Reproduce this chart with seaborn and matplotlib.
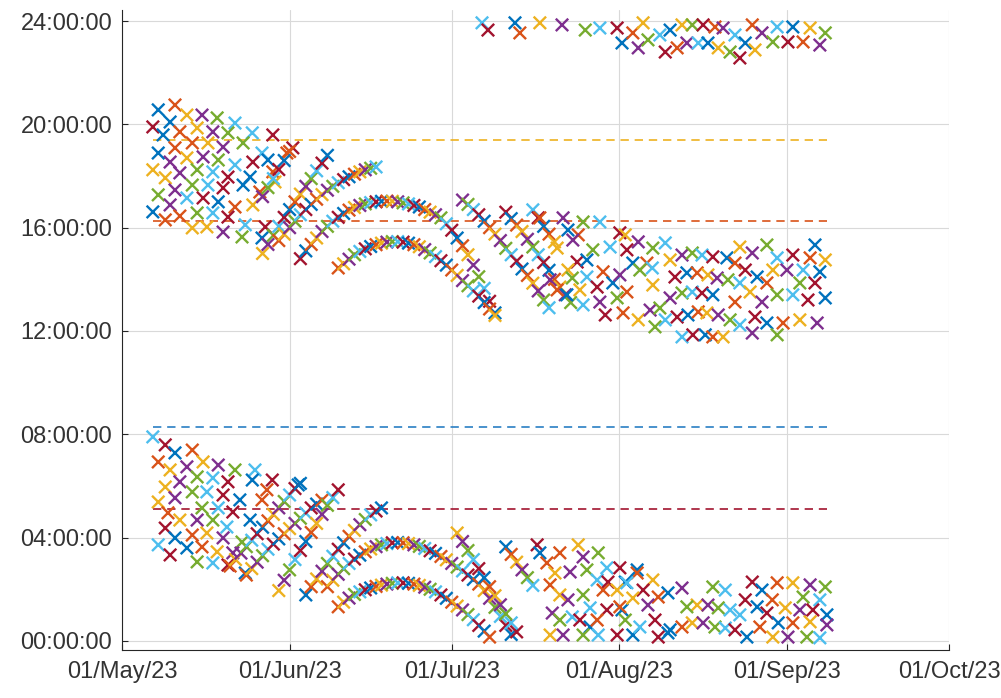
#pass times plot, redrawn from the matlab figure

import numpy as np
import pandas as pd
import seaborn as sns
import matplotlib
matplotlib.use("Agg")
from matplotlib import pyplot as plt
import matplotlib.dates as mdates
from matplotlib.ticker import FuncFormatter

#days counted from 01/May/23, values are hour of the day
#scattered passes, (day, hour)
may_up = [(6.7, 20.56), (9.8, 20.75), (12.0, 20.36), (14.8, 20.36), (17.6, 20.25), (20.9, 20.05),
          (5.7, 19.90), (8.9, 20.09), (10.7, 19.71), (13.9, 19.86), (16.8, 19.71), (19.6, 19.67),
          (24.1, 19.67), (27.9, 19.59), (7.6, 19.59), (13.0, 19.28), (15.9, 19.28), (18.7, 19.12),
          (22.4, 19.28), (25.9, 18.89), (31.6, 19.09), (6.7, 18.89), (9.8, 19.09), (12.0, 18.70),
          (15.0, 18.74), (17.8, 18.62), (20.9, 18.43), (24.2, 18.54), (27.0, 18.62), (30.5, 18.89),
          (5.7, 18.24), (8.9, 18.54), (13.9, 18.24), (16.8, 18.16), (19.6, 17.96), (23.7, 17.96),
          (27.9, 18.16), (8.0, 17.93), (10.7, 18.12), (13.0, 17.65), (15.9, 17.65), (18.7, 17.54),
          (22.4, 17.65), (25.5, 17.38), (28.3, 17.77), (9.8, 17.46), (6.7, 17.27), (12.0, 17.15),
          (15.0, 17.15), (17.8, 17.00), (20.9, 16.80), (24.2, 16.88), (8.9, 16.88), (13.9, 16.57),
          (16.8, 16.57), (19.6, 16.41), (5.7, 16.61), (10.7, 16.45), (15.7, 16.03), (18.7, 15.83),
          (22.2, 15.64), (22.8, 16.11), (26.5, 16.03), (25.9, 15.60), (8.0, 16.30), (13.0, 15.99)]

late_up = [(81.6, 16.38), (85.3, 16.22), (88.4, 16.22), (92.1, 15.80), (82.5, 15.91), (84.4, 15.72),
           (80.5, 15.21), (83.4, 15.52), (87.1, 15.14), (90.3, 15.25), (84.2, 14.67), (86.0, 14.75),
           (89.0, 14.29), (82.5, 14.36), (79.2, 13.98), (83.3, 14.05), (86.0, 14.09), (87.9, 13.70),
           (90.8, 13.86), (80.5, 13.59), (84.7, 13.59), (88.4, 13.12), (91.6, 13.28), (85.3, 13.01),
           (89.4, 12.62), (82.3, 13.40), (77.3, 16.38),
           (93.1, 15.72), (95.5, 15.45), (98.2, 15.21), (100.5, 15.41), (93.4, 15.14), (94.5, 14.63),
           (97.1, 14.63), (101.4, 14.75), (103.6, 14.94), (105.5, 15.02), (107.3, 14.94), (109.3, 14.87),
           (111.9, 14.83), (113.4, 14.63), (114.3, 15.25), (116.6, 15.02), (119.3, 15.33), (121.2, 14.83),
           (124.1, 14.94), (128.2, 15.33), (127.3, 14.83), (130.1, 14.75),
           (92.1, 14.17), (95.8, 14.36), (98.1, 14.44), (102.3, 14.09), (104.5, 14.25), (106.4, 14.25),
           (108.4, 14.17), (110.1, 14.05), (112.1, 13.98), (114.3, 13.86), (115.3, 14.36), (117.5, 14.09),
           (119.3, 13.86), (120.4, 14.36), (123.0, 14.36), (125.4, 13.86), (126.0, 14.36), (128.2, 13.86),
           (129.1, 14.29), (93.4, 13.51), (98.2, 13.78), (101.4, 13.28), (103.6, 13.47), (105.5, 13.51),
           (107.3, 13.47), (109.3, 13.40), (113.4, 13.12), (116.2, 13.51), (118.4, 13.12), (121.2, 13.40),
           (124.1, 13.40), (126.9, 13.20), (130.1, 13.28), (92.7, 12.70), (95.5, 12.43), (97.7, 12.81),
           (99.5, 12.89), (100.5, 12.43), (102.7, 12.54), (104.7, 12.62), (106.6, 12.74), (108.2, 12.70),
           (110.3, 12.62), (112.5, 12.43), (114.3, 12.23), (117.1, 12.54), (119.3, 12.31), (122.3, 12.31),
           (125.4, 12.43), (128.6, 12.31), (98.6, 12.16), (103.6, 11.77), (105.6, 11.85), (107.9, 11.85),
           (109.3, 11.77), (111.2, 11.77), (116.6, 11.92), (121.2, 11.85)]

late_night = [(66.6, 23.93), (67.7, 23.65), (72.7, 23.93), (73.6, 23.54), (77.3, 23.93), (81.4, 23.85),
              (85.7, 23.65), (88.4, 23.73), (91.6, 23.73), (92.5, 23.15), (94.5, 23.54), (96.4, 23.93),
              (95.5, 22.96), (97.3, 23.27), (99.5, 23.46), (100.5, 22.80), (101.4, 23.65), (102.7, 22.96),
              (103.6, 23.85), (104.5, 23.15), (105.5, 23.85), (106.6, 23.15), (107.5, 23.85), (108.4, 23.15),
              (109.7, 23.77), (110.3, 22.96), (111.2, 23.73), (112.5, 22.80), (113.4, 23.46), (114.3, 22.57),
              (115.3, 23.15), (116.6, 23.85), (117.1, 22.88), (118.4, 23.54), (120.4, 23.19), (121.2, 23.77),
              (123.2, 23.19), (124.1, 23.77), (126.0, 23.19), (127.3, 23.73), (129.1, 23.07), (130.1, 23.54)]

may_lo = [(5.7, 7.90), (8.0, 7.59), (9.8, 7.28), (13.0, 7.39), (15.0, 6.93), (17.8, 6.81), (20.9, 6.62),
          (24.6, 6.62), (27.8, 6.23), (32.6, 6.04), (6.7, 6.93), (8.9, 6.62), (12.0, 6.74), (13.9, 6.35),
          (16.8, 6.31), (19.6, 6.16), (24.1, 6.23), (26.8, 5.85), (8.0, 5.96), (10.7, 6.16), (13.0, 5.77),
          (15.7, 5.77), (18.7, 5.65), (21.8, 5.46), (25.9, 5.46), (6.7, 5.38), (9.8, 5.54), (14.8, 5.15),
          (17.8, 5.15), (20.5, 4.99), (23.7, 4.68), (8.5, 4.96), (10.7, 4.68), (13.9, 4.68), (16.8, 4.68),
          (19.4, 4.41), (8.0, 4.37), (9.8, 3.99), (13.0, 4.10), (15.7, 4.18), (18.7, 3.99), (22.2, 3.83),
          (6.7, 3.72), (8.9, 3.33), (12.0, 3.60), (14.8, 3.64), (17.6, 3.45), (20.5, 3.41), (13.9, 3.06),
          (16.8, 3.02), (19.6, 2.94), (22.8, 2.63)]

late_lo = [(76.8, 3.72), (77.3, 3.41), (81.0, 3.41), (84.4, 3.72), (85.3, 3.25), (88.1, 3.41), (89.7, 2.83),
           (92.1, 2.83), (95.3, 2.75), (78.6, 3.02), (80.1, 2.63), (82.9, 2.67), (86.0, 2.75), (87.9, 2.36),
           (89.9, 2.28), (93.1, 2.28), (79.2, 2.17), (81.0, 1.78), (82.5, 1.59), (85.3, 1.78), (86.6, 1.28),
           (89.7, 1.20), (92.5, 1.20), (89.0, 1.97), (91.6, 1.97), (79.6, 1.08), (81.0, 0.81), (83.3, 0.93),
           (84.7, 0.81), (86.6, 0.54), (87.9, 0.81), (79.2, 0.23), (81.6, 0.23), (85.3, 0.23), (88.1, 0.23),
           (91.6, 0.23), (94.5, 0.23),
           (95.3, 2.63), (98.2, 2.36), (103.6, 2.05), (109.3, 2.09), (111.6, 1.97), (116.6, 2.28),
           (118.4, 1.97), (121.2, 2.25), (124.1, 2.25), (127.3, 2.17), (130.1, 2.09), (93.4, 2.25),
           (96.4, 1.97), (101.0, 1.86), (99.2, 1.70), (106.4, 1.39), (108.4, 1.39), (110.3, 1.28),
           (112.5, 1.20), (115.3, 1.59), (117.5, 1.32), (120.3, 1.59), (122.7, 1.28), (125.4, 1.20),
           (126.0, 1.70), (129.1, 1.59), (127.8, 1.20), (130.4, 1.01), (92.1, 1.32), (94.5, 1.66),
           (97.3, 1.39), (104.5, 1.32), (114.3, 1.01), (119.3, 1.08), (121.4, 0.70), (124.1, 0.70),
           (127.3, 0.74), (130.4, 0.62), (93.1, 0.81), (95.8, 0.54), (98.6, 0.81), (101.4, 0.43),
           (103.6, 0.54), (105.5, 0.70), (107.5, 0.70), (109.7, 0.54), (111.6, 0.50), (113.4, 0.43),
           (115.6, 0.15), (118.0, 0.54), (120.4, 0.15), (123.2, 0.15), (126.7, 0.15), (129.1, 0.12),
           (99.2, 0.15), (101.0, 0.31)]

#daily tracks: (first day, hours on consecutive days)
up_rise_0 = (26, [17.2, 17.55, 17.9, 18.25, 18.6, 18.95])
up_rise_1 = (26, [15.0, 15.35, 15.7, 16.05, 16.4, 16.7, 17.0, 17.3, 17.6, 17.9, 18.2, 18.5, 18.8])
up_rise_2 = (29, [15.5, 15.75, 16.0, 16.25, 16.5, 16.7, 16.9, 17.1, 17.28, 17.45, 17.6, 17.74, 17.86,
                  17.97, 18.07, 18.16, 18.24, 18.3, 18.35])
up_arc_1 = (33, [14.8, 15.1, 15.35, 15.6, 15.85, 16.05, 16.25, 16.4, 16.55, 16.68, 16.78, 16.86, 16.92,
                 16.97, 17.0, 17.02, 17.03, 17.02, 17.0, 16.96, 16.92, 16.86, 16.8, 16.7, 16.6, 16.5,
                 16.38, 16.15, 15.9, 15.6, 15.3, 14.95, 14.55, 14.1, 13.65, 13.15, 12.7])
up_arc_2 = (40, [14.44, 14.6, 14.78, 14.95, 15.08, 15.18, 15.27, 15.34, 15.4, 15.44, 15.46, 15.46, 15.44,
                 15.4, 15.34, 15.26, 15.15, 15.02, 14.88, 14.72, 14.55, 14.36, 14.15, 13.95, 13.75,
                 13.55, 13.35, 13.1, 12.85, 12.6])
up_fall_1 = (63, [17.07, 16.9, 16.7, 16.5, 16.25, 16.0, 15.75, 15.5, 15.2, 14.95, 14.7, 14.4, 14.15,
                  13.85, 13.55, 13.2, 12.9])
up_fall_2 = (71, [16.6, 16.35, 16.1, 15.85, 15.55, 15.25, 14.95, 14.65, 14.35, 14.0, 13.7, 13.4, 13.1])
up_fall_3 = (76, [16.69, 16.38, 16.05, 15.75, 15.45])

lo_rise_a = (20, [2.9, 3.15, 3.4, 3.65, 3.9, 4.15, 4.4, 4.65, 4.9, 5.15, 5.4, 5.65, 5.9, 6.1])
lo_rise_b = (23, [2.55, 2.8, 3.05, 3.3, 3.55, 3.75, 3.95, 4.15, 4.35, 4.55, 4.75, 4.95, 5.15, 5.3, 5.45])
lo_rise_c = (29, [1.95, 2.35, 2.75, 3.15, 3.5, 3.85, 4.2, 4.55, 4.9, 5.25, 5.55, 5.85])
lo_rise_d = (34, [1.78, 2.1, 2.4, 2.7, 3.0, 3.28, 3.55, 3.8, 4.05, 4.28, 4.5, 4.7, 4.88, 5.03, 5.15])
lo_arc_1 = (38, [2.1, 2.35, 2.58, 2.8, 3.0, 3.17, 3.32, 3.45, 3.56, 3.65, 3.72, 3.77, 3.8, 3.81, 3.8,
                 3.77, 3.72, 3.66, 3.58, 3.49, 3.39, 3.27, 3.14, 3.0, 2.86, 2.71, 2.55, 2.38, 2.2,
                 1.95, 1.65, 1.3, 0.95, 0.6, 0.25])
lo_arc_2 = (40, [1.32, 1.5, 1.66, 1.8, 1.9, 1.98, 2.05, 2.11, 2.16, 2.2, 2.23, 2.25, 2.25, 2.23, 2.2,
                 2.15, 2.08, 2.0, 1.9, 1.78, 1.65, 1.5, 1.35, 1.2, 1.02, 0.82, 0.6, 0.38, 0.15])
lo_fall_1 = (62, [4.18, 3.85, 3.5, 3.15, 2.8, 2.45, 2.1, 1.75, 1.4, 1.05, 0.7, 0.35])
lo_fall_2 = (71, [3.64, 3.35, 3.05, 2.75, 2.45, 2.15])

#dashed reference levels
ref_hours = [19.40, 16.27, 8.28, 5.10]
ref_colors = ["#EDB120", "#D95319", "#2a7fc4", "#A2142F"]

matlab = ["#0072BD", "#D95319", "#EDB120", "#7E2F8E", "#77AC30", "#4DBEEE", "#A2142F"]


def track(t):
    first, hours = t
    return [(first + i, h) for i, h in enumerate(hours)]


points = (may_up + track(up_rise_0) + track(up_rise_1) + track(up_rise_2) + track(up_arc_1)
          + track(up_arc_2) + track(up_fall_1) + track(up_fall_2) + track(up_fall_3) + late_up
          + late_night + may_lo + track(lo_rise_a) + track(lo_rise_b) + track(lo_rise_c)
          + track(lo_rise_d) + track(lo_arc_1) + track(lo_arc_2) + track(lo_fall_1)
          + track(lo_fall_2) + late_lo)

df = pd.DataFrame(points, columns=["day", "hour"])
df["date"] = pd.Timestamp("2023-05-01") + pd.to_timedelta(df["day"], unit="D")
df["c"] = [matlab[i % 7] for i in range(len(df))]

sns.set_style("ticks")
plt.rcParams["font.family"] = ["Liberation Sans", "DejaVu Sans"]

fig = plt.figure(figsize=(10.01, 6.98), dpi=100)
ax = fig.add_axes([0.1219, 0.0688, 0.8262, 0.917])

sns.scatterplot(data=df, x="date", y="hour", hue="c", palette={c: c for c in matlab},
                hue_order=matlab, marker="x", s=80, linewidth=1.7, legend=False, ax=ax, zorder=3)

d0, d1 = df["date"].min(), df["date"].max()
for h, col in zip(ref_hours, ref_colors):
    ax.plot([d0, d1], [h, h], color=col, lw=1.2, dashes=(5, 3.5), zorder=2)

ax.set_xlim(pd.Timestamp("2023-05-01"), pd.Timestamp("2023-10-01"))
ax.set_ylim(-0.35, 24.43)
ax.xaxis.set_major_locator(mdates.MonthLocator())
ax.xaxis.set_major_formatter(mdates.DateFormatter("%d/%b/%y"))
ax.set_yticks(range(0, 25, 4))
ax.yaxis.set_major_formatter(FuncFormatter(lambda v, p: "%02d:00:00" % int(round(v))))
ax.set_xlabel("")
ax.set_ylabel("")

ax.grid(True, color="#d9d9d9", lw=0.8)
ax.set_axisbelow(True)
sns.despine(ax=ax)
for s in ["left", "bottom"]:
    ax.spines[s].set_color("#262626")
    ax.spines[s].set_linewidth(0.8)
ax.tick_params(direction="in", length=4, width=0.8, colors="#262626", labelsize=17,
               labelcolor="#333333")
ax.tick_params(axis="y", pad=7)
ax.tick_params(axis="x", pad=8)

fig.savefig("out.png", dpi=100)
